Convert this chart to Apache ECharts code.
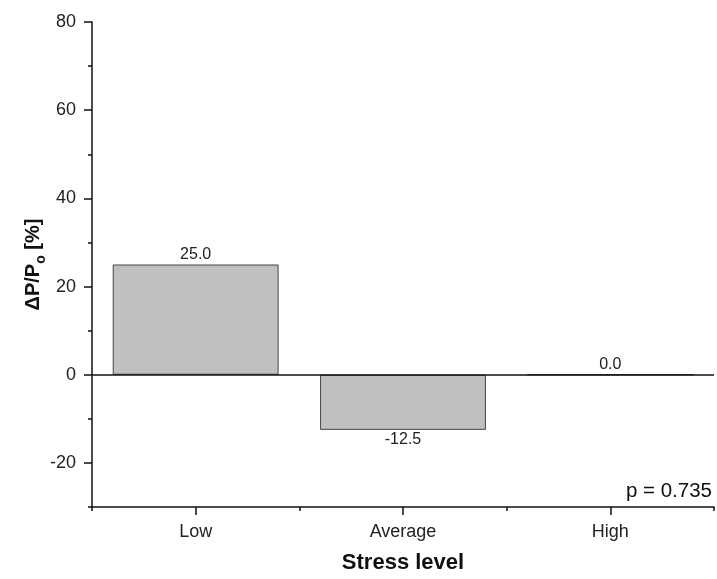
<!DOCTYPE html>
<html>
<head>
<meta charset="utf-8">
<script src="https://cdn.jsdelivr.net/npm/echarts@6/dist/echarts.min.js"></script>
<style>html,body{margin:0;padding:0;background:#fff}#c{width:717px;height:579px}</style>
</head>
<body>
<div id="c"></div>
<script>
const categories = ['Low', 'Average', 'High'];
const values = [25.0, -12.5, 0.0];
const yTicks = [-20, 0, 20, 40, 60, 80];
const pText = 'p = 0.735';

const chart = echarts.init(document.getElementById('c'), null, {renderer: 'canvas'});
const font = 'Liberation Sans, Arial, sans-serif';
const barData = values.map(v => ({
  value: v,
  label: {position: v < 0 ? 'bottom' : 'top'}
}));
const tickStyle = {color: '#111', width: 1.5};

chart.setOption({
  animation: false,
  backgroundColor: '#fff',
  grid: {left: 92, right: 3, top: 22, bottom: 72, containLabel: false, outerBoundsMode: 'none'},
  xAxis: [{
    type: 'category',
    data: categories,
    position: 'bottom',
    axisLine: {show: true, onZero: false, lineStyle: {color: '#111', width: 1.5}},
    axisTick: {show: true, alignWithLabel: true, inside: false, length: 8, lineStyle: tickStyle},
    axisLabel: {color: '#222', fontSize: 18, fontFamily: font, margin: 16},
    name: 'Stress level',
    nameLocation: 'middle',
    nameGap: 45,
    nameMoveOverlap: false,
    nameTextStyle: {color: '#111', fontSize: 22, fontWeight: 'bold', fontFamily: font}
  }, {
    type: 'category',
    data: categories,
    position: 'bottom',
    axisLine: {show: false, onZero: false},
    axisTick: {show: true, inside: false, length: 4, lineStyle: tickStyle},
    axisLabel: {show: false}
  }],
  yAxis: [{
    type: 'value',
    min: -30, max: 80, interval: 10,
    axisLine: {show: true, lineStyle: {color: '#111', width: 1.5}},
    axisTick: {show: true, inside: false, length: 4, lineStyle: tickStyle},
    axisLabel: {
      color: '#222', fontSize: 18, fontFamily: font, margin: 16,
      formatter: v => yTicks.includes(v) ? String(v) : ''
    },
    splitLine: {show: false},
    name: '{a|ΔP/P}{s|o}{a| [%]}',
    nameLocation: 'middle',
    nameGap: 49,
    nameMoveOverlap: false,
    nameRotate: 90,
    nameTextStyle: {
      rich: {
        a: {fontSize: 20, fontWeight: 'bold', color: '#111', fontFamily: font, verticalAlign: 'bottom', lineHeight: 24},
        s: {fontSize: 14, fontWeight: 'bold', color: '#111', fontFamily: font, verticalAlign: 'bottom', lineHeight: 24, padding: [0, 0, -5, 0]}
      }
    }
  }, {
    type: 'value', min: -30, max: 80, interval: 10, position: 'left',
    axisLine: {show: false},
    axisTick: {show: true, inside: false, length: 8, lineStyle: tickStyle, customValues: yTicks},
    axisLabel: {show: false},
    splitLine: {show: false}
  }],
  series: [{
    type: 'bar',
    xAxisIndex: 0,
    yAxisIndex: 0,
    data: barData,
    barWidth: '80%',
    itemStyle: {color: '#c0c0c0', borderColor: '#444', borderWidth: 1},
    label: {
      show: true,
      color: '#222', fontSize: 16, fontFamily: font, distance: 2,
      formatter: p => Number(p.value).toFixed(1)
    },
    markLine: {
      silent: true,
      symbol: 'none',
      label: {show: false},
      lineStyle: {color: '#111', width: 1.5, type: 'solid'},
      data: [{yAxis: 0}]
    },
    z: 2
  }],
  graphic: [{
    type: 'text',
    right: 5,
    top: 481,
    style: {text: pText, fill: '#111', fontSize: 20.5, fontFamily: font}
  }]
});
</script>
</body>
</html>
